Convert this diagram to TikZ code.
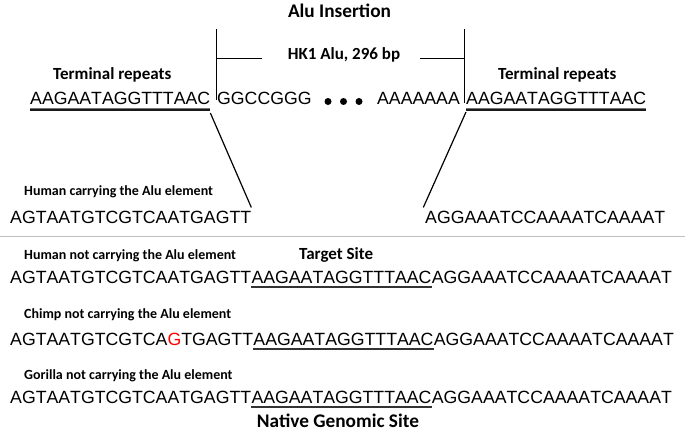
\documentclass[tikz,border=0pt]{standalone}
\usepackage{fontspec}
\setmainfont{Liberation Sans}[Kerning=Off]
\newfontfamily\lblfont{Carlito}
\usetikzlibrary{calc}
\tikzset{
  seq/.style={inner sep=0pt, anchor=base west, font=\fontsize{17.7}{20}\selectfont},
  lab/.style={inner sep=0pt, anchor=base west, font=\lblfont\bfseries\fontsize{14}{16}\selectfont},
  head/.style={inner sep=0pt, anchor=base west, font=\lblfont\bfseries\fontsize{17}{20}\selectfont},
  big/.style={inner sep=0pt, anchor=base, font=\lblfont\bfseries\fontsize{19.3}{22}\selectfont},
  ln/.style={line width=1.2pt, black},
  ulthin/.style={line width=0.9pt, black!55},
  ulthick/.style={line width=1.6pt, black!90},
  ul/.style={line width=1.8pt, black!80},
  sep/.style={line width=1.5pt, black!25},
  dotnode/.style={circle, fill=black, inner sep=0pt, minimum size=7pt},
}
\begin{document}
\begin{tikzpicture}[x=1pt,y=-1pt]
\useasboundingbox (0,0) rectangle (685,433);

% title and bracket
\node[big] (title) at (339.5,18) {Alu Insertion};
\node[head, anchor=base] (hk) at (344,59.3) {HK1 Alu, 296 bp};
\coordinate (bLt) at (216.7,29);
\coordinate (bLb) at (216.7,100);
\coordinate (bLm) at (216.7,58.3);
\coordinate (bLe) at (261.7,58.3);
\coordinate (bRt) at (464.3,29);
\coordinate (bRb) at (464.3,103);
\coordinate (bRm) at (464.3,58.3);
\coordinate (bRe) at (420,58.3);
\draw[ln] (bLt) -- (bLb);
\draw[ln] (bLm) -- (bLe);
\draw[ln] (bRt) -- (bRb);
\draw[ln] (bRm) -- (bRe);

\node[head] (trl) at (53,80) {Terminal repeats};
\node[head] (trr) at (498,80) {Terminal repeats};

% row 1
\node[seq] (r1a) at (30,105) {AAGAATAGGTTTAAC};
\node[seq] (r1b) at (217,105) {GGCCGGG};
\node[dotnode] (d1) at (328,101.5) {};
\node[dotnode] (d2) at (343.5,101.5) {};
\node[dotnode] (d3) at (359,101.5) {};
\node[seq, anchor=base east] (r1c) at (460,105) {AAAAAAA};
\node[seq] (r1d) at (466,105) {AAGAATAGGTTTAAC};
\draw[ulthin] ([yshift=-3pt]r1a.base west) -- ([yshift=-3pt]r1a.base east);
\draw[ulthick] ([yshift=-4.8pt]r1a.base west) -- ([yshift=-4.8pt]r1a.base east);
\draw[ulthin] ([yshift=-3pt]r1d.base west) -- ([yshift=-3pt]r1d.base east);
\draw[ulthick] ([yshift=-4.8pt]r1d.base west) -- ([yshift=-4.8pt]r1d.base east);

% row 2
\node[lab] (l1) at (24,195) {Human carrying the Alu element};
\node[seq] (r2a) at (10,223) {AGTAATGTCGTCAATGAGTT};
\node[seq] (r2b) at (425,223) {AGGAAATCCAAAATCAAAAT};
\draw[ln] ([yshift=-8pt]r1a.base east) -- ([yshift=3pt]r2a.north east);
\draw[ln] ([yshift=-7pt]r1d.base west) -- ([xshift=-1.7pt,yshift=3pt]r2b.north west);

% separator
\coordinate (s1) at (0,236.7);
\coordinate (s2) at (685,236.7);
\draw[sep] (s1) -- (s2);

% row 3
\node[lab] (l2) at (24,259) {Human not carrying the Alu element};
\node[head] (ts) at (299,259) {Target Site};
\node[seq] (r3a) at (10,283) {AGTAATGTCGTCAATGAGTT};
\node[seq] (r3b) at (r3a.base east) {AAGAATAGGTTTAAC};
\node[seq] (r3c) at (r3b.base east) {AGGAAATCCAAAATCAAAAT};
\draw[ul] ([yshift=-4pt]r3b.base west) -- ([yshift=-4pt]r3b.base east);

% row 4
\node[lab] (l3) at (24,318) {Chimp not carrying the Alu element};
\node[seq] (r4a) at (10,345) {AGTAATGTCGTCA\textcolor{red}{G}TGAGTT};
\node[seq] (r4b) at (r4a.base east) {AAGAATAGGTTTAAC};
\node[seq] (r4c) at (r4b.base east) {AGGAAATCCAAAATCAAAAT};
\draw[ul] ([yshift=-4pt]r4b.base west) -- ([yshift=-4pt]r4b.base east);

% row 5
\node[lab] (l4) at (24,379) {Gorilla not carrying the Alu element};
\node[seq] (r5a) at (10,403) {AGTAATGTCGTCAATGAGTT};
\node[seq] (r5b) at (r5a.base east) {AAGAATAGGTTTAAC};
\node[seq] (r5c) at (r5b.base east) {AGGAAATCCAAAATCAAAAT};
\draw[ul] ([yshift=-4pt]r5b.base west) -- ([yshift=-4pt]r5b.base east);

\node[big] (ngs) at (338,427) {Native Genomic Site};
\end{tikzpicture}
\end{document}
